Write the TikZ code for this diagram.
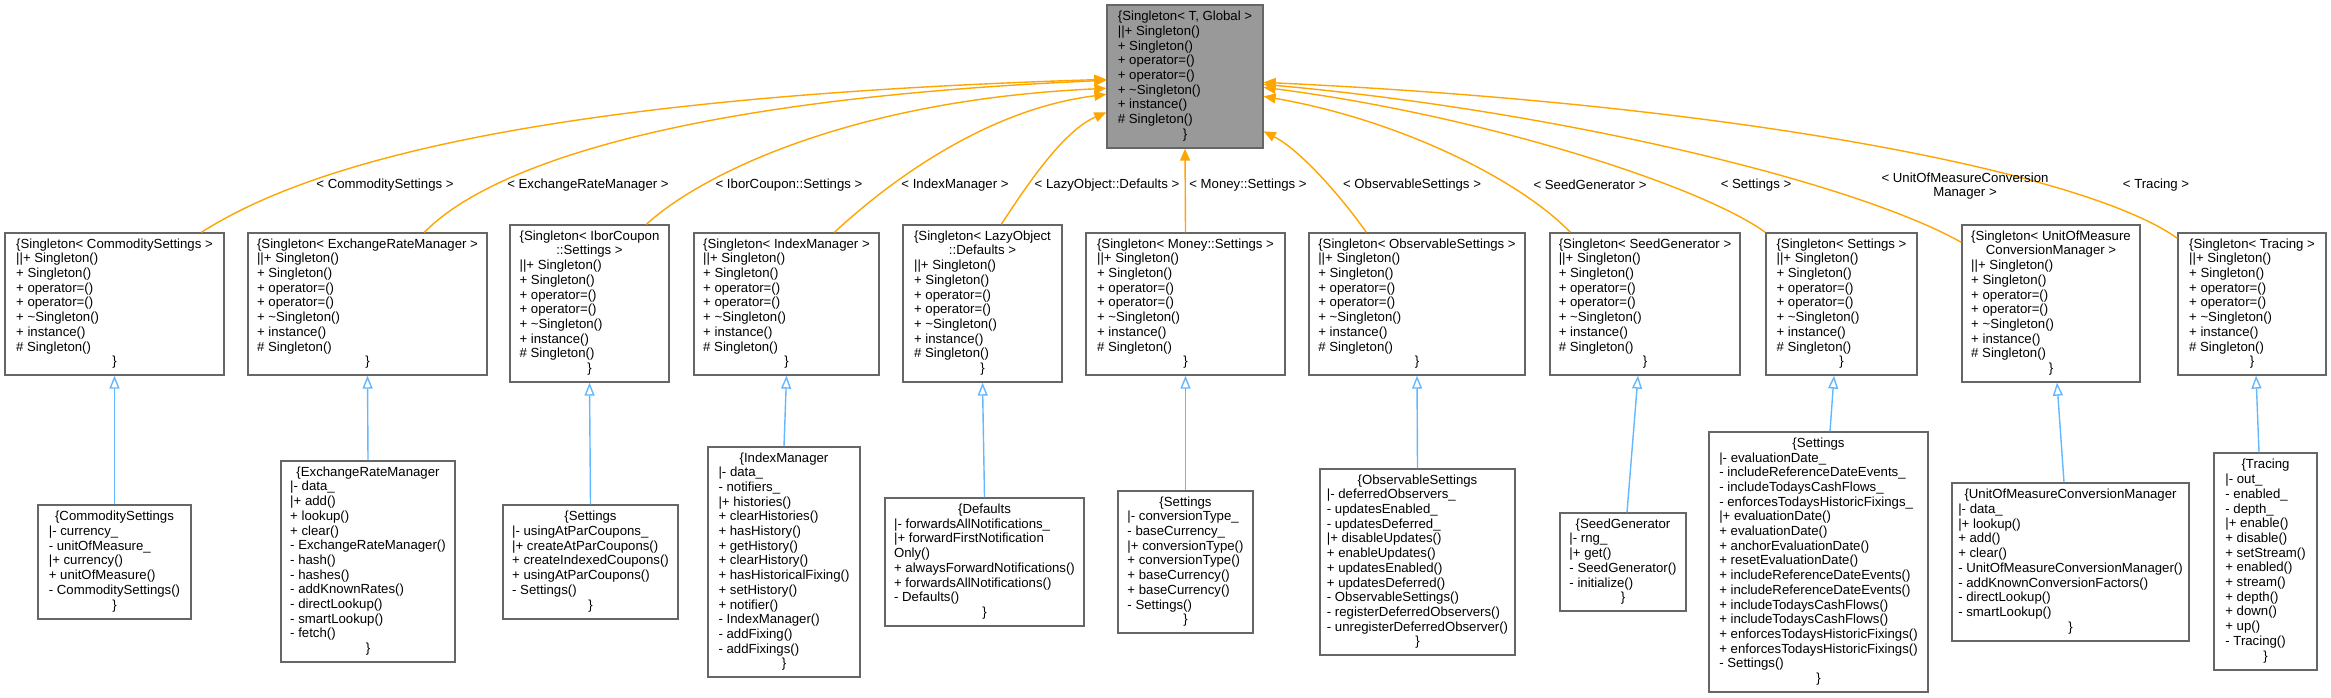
\documentclass[tikz,border=0pt]{standalone}
\usepackage{fontspec}
\setmainfont{Liberation Sans}
\usetikzlibrary{arrows.meta,calc}
\definecolor{edgeorange}{HTML}{FFA500}
\definecolor{inhblue}{HTML}{63B8FF}
\definecolor{bordergray}{HTML}{666666}
\definecolor{topfill}{HTML}{999999}
\newcommand\ttl[1]{\multicolumn{1}{@{}c@{}}{#1}}
\newcommand\cend{\multicolumn{1}{@{}c@{}}{\}}}
\newcommand\sgl{||+ Singleton()\\ + Singleton()\\ + operator=()\\ + operator=()\\ + \textasciitilde Singleton()\\ + instance()\\ \# Singleton()\\}
\newenvironment{rec}{\begin{tabular}{@{}l@{}}}{\end{tabular}}
\begin{document}
\begin{tikzpicture}[x=1pt,y=-1pt,
  cls/.style={draw=bordergray, line width=1.3pt, fill=white, inner sep=0pt,
    font=\fontsize{13.2}{14.7}\selectfont},
  box/.style 2 args={cls, minimum width=#1, minimum height=#2},
  lbl/.style={inner sep=0pt, font=\fontsize{13.2}{14.7}\selectfont, align=center},
  tmpl/.style={draw=edgeorange, line width=1.4pt, -{Triangle[length=12pt,width=10pt]}},
  inh/.style={draw=inhblue, line width=1.4pt, -{Triangle[open,length=13pt,width=10pt,fill=white]}}]
\fill[white] (0,0) rectangle (2331,697);
\useasboundingbox (0,0) rectangle (2331,697);

% top node
\node[box={156pt}{143pt}, fill=topfill] (T) at (1185,76.5) {\begin{rec}\ttl{\{Singleton< T, Global >}\\ \sgl\cend\end{rec}};

% middle row
\node[box={219pt}{142pt}] (mComm) at (114.5,304) {\begin{rec}\ttl{\{Singleton< CommoditySettings >}\\ \sgl\cend\end{rec}};
\node[box={239pt}{142pt}] (mExr) at (367.5,304) {\begin{rec}\ttl{\{Singleton< ExchangeRateManager >}\\ \sgl\cend\end{rec}};
\node[box={159pt}{157pt}] (mIbor) at (589.5,303.5) {\begin{rec}\ttl{\{Singleton< IborCoupon}\\ \ttl{::Settings >}\\ \sgl\cend\end{rec}};
\node[box={185pt}{142pt}] (mIdx) at (786.5,304) {\begin{rec}\ttl{\{Singleton< IndexManager >}\\ \sgl\cend\end{rec}};
\node[box={159pt}{157pt}] (mLazy) at (982.5,303.5) {\begin{rec}\ttl{\{Singleton< LazyObject}\\ \ttl{::Defaults >}\\ \sgl\cend\end{rec}};
\node[box={199pt}{142pt}] (mMoney) at (1185.5,304) {\begin{rec}\ttl{\{Singleton< Money::Settings >}\\ \sgl\cend\end{rec}};
\node[box={216pt}{142pt}] (mObs) at (1417,304) {\begin{rec}\ttl{\{Singleton< ObservableSettings >}\\ \sgl\cend\end{rec}};
\node[box={190pt}{142pt}] (mSeed) at (1645,304) {\begin{rec}\ttl{\{Singleton< SeedGenerator >}\\ \sgl\cend\end{rec}};
\node[box={151pt}{142pt}] (mSet) at (1841.5,304) {\begin{rec}\ttl{\{Singleton< Settings >}\\ \sgl\cend\end{rec}};
\node[box={178pt}{157pt}] (mUom) at (2051,303.5) {\begin{rec}\ttl{\{Singleton< UnitOfMeasure}\\ \ttl{ConversionManager >}\\ \sgl\cend\end{rec}};
\node[box={148pt}{142pt}] (mTr) at (2252,304) {\begin{rec}\ttl{\{Singleton< Tracing >}\\ \sgl\cend\end{rec}};

% bottom row
\node[box={153pt}{114pt}] (bComm) at (114.5,562) {\begin{rec}\ttl{\{CommoditySettings}\\ |- currency\_\\ - unitOfMeasure\_\\ |+ currency()\\ + unitOfMeasure()\\ - CommoditySettings()\\ \cend\end{rec}};
\node[box={174pt}{201pt}] (bExr) at (368,561.5) {\begin{rec}\ttl{\{ExchangeRateManager}\\ |- data\_\\ |+ add()\\ + lookup()\\ + clear()\\ - ExchangeRateManager()\\ - hash()\\ - hashes()\\ - addKnownRates()\\ - directLookup()\\ - smartLookup()\\ - fetch()\\ \cend\end{rec}};
\node[box={175pt}{114pt}] (bIbor) at (590.5,562) {\begin{rec}\ttl{\{Settings}\\ |- usingAtParCoupons\_\\ |+ createAtParCoupons()\\ + createIndexedCoupons()\\ + usingAtParCoupons()\\ - Settings()\\ \cend\end{rec}};
\node[box={152pt}{230pt}] (bIdx) at (784,562) {\begin{rec}\ttl{\{IndexManager}\\ |- data\_\\ - notifiers\_\\ |+ histories()\\ + clearHistories()\\ + hasHistory()\\ + getHistory()\\ + clearHistory()\\ + hasHistoricalFixing()\\ + setHistory()\\ + notifier()\\ - IndexManager()\\ - addFixing()\\ - addFixings()\\ \cend\end{rec}};
\node[box={199pt}{128pt}] (bLazy) at (984.5,562) {\begin{rec}\ttl{\{Defaults}\\ |- forwardsAllNotifications\_\\ |+ forwardFirstNotification\\ Only()\\ + alwaysForwardNotifications()\\ + forwardsAllNotifications()\\ - Defaults()\\ \cend\end{rec}};
\node[box={135pt}{142pt}] (bMoney) at (1185.5,562) {\begin{rec}\ttl{\{Settings}\\ |- conversionType\_\\ - baseCurrency\_\\ |+ conversionType()\\ + conversionType()\\ + baseCurrency()\\ + baseCurrency()\\ - Settings()\\ \cend\end{rec}};
\node[box={195pt}{186pt}] (bObs) at (1417.5,562) {\begin{rec}\ttl{\{ObservableSettings}\\ |- deferredObservers\_\\ - updatesEnabled\_\\ - updatesDeferred\_\\ |+ disableUpdates()\\ + enableUpdates()\\ + updatesEnabled()\\ + updatesDeferred()\\ - ObservableSettings()\\ - registerDeferredObservers()\\ - unregisterDeferredObserver()\\ \cend\end{rec}};
\node[box={126pt}{98pt}] (bSeed) at (1623,562) {\begin{rec}\ttl{\{SeedGenerator}\\ |- rng\_\\ |+ get()\\ - SeedGenerator()\\ - initialize()\\ \cend\end{rec}};
\node[box={219pt}{260pt}] (bSet) at (1818.5,562) {\begin{rec}\ttl{\{Settings}\\ |- evaluationDate\_\\ - includeReferenceDateEvents\_\\ - includeTodaysCashFlows\_\\ - enforcesTodaysHistoricFixings\_\\ |+ evaluationDate()\\ + evaluationDate()\\ + anchorEvaluationDate()\\ + resetEvaluationDate()\\ + includeReferenceDateEvents()\\ + includeReferenceDateEvents()\\ + includeTodaysCashFlows()\\ + includeTodaysCashFlows()\\ + enforcesTodaysHistoricFixings()\\ + enforcesTodaysHistoricFixings()\\ - Settings()\\ \cend\end{rec}};
\node[box={237pt}{158pt}] (bUom) at (2070.5,562) {\begin{rec}\ttl{\{UnitOfMeasureConversionManager}\\ |- data\_\\ |+ lookup()\\ + add()\\ + clear()\\ - UnitOfMeasureConversionManager()\\ - addKnownConversionFactors()\\ - directLookup()\\ - smartLookup()\\ \cend\end{rec}};
\node[box={103pt}{217pt}] (bTr) at (2265.5,561.5) {\begin{rec}\ttl{\{Tracing}\\ |- out\_\\ - enabled\_\\ - depth\_\\ |+ enable()\\ + disable()\\ + setStream()\\ + enabled()\\ + stream()\\ + depth()\\ + down()\\ + up()\\ - Tracing()\\ \cend\end{rec}};

% inheritance arrows
\draw[inh] (bComm.north) -- (mComm.south);
\draw[inh] (bExr.north) -- (mExr.south);
\draw[inh] (bIbor.north) -- (mIbor.south);
\draw[inh] (bIdx.north) -- (mIdx.south);
\draw[inh] (bLazy.north) -- (mLazy.south);
\draw[inh] (bMoney.north) -- (mMoney.south);
\draw[inh] (bObs.north) -- (mObs.south);
\draw[inh] ($(bSeed.north)+(4,0)$) -- ($(mSeed.south)+(-7,0)$);
\draw[inh] ($(bSet.north)+(11.5,0)$) -- ($(mSet.south)+(-7.5,0)$);
\draw[inh] ($(bUom.north)+(-6.5,0)$) -- ($(mUom.south)+(6,0)$);
\draw[inh] ($(bTr.north)+(-6.5,0)$) -- ($(mTr.south)+(4,0)$);

% template instance edges
\draw[tmpl] ($(mComm.north west)+(197,0)$) .. controls (330,150) and (600,95) .. ($(T.north west)+(0,75)$);
\draw[tmpl] ($(mExr.north west)+(177,0)$) .. controls (480,175) and (650,100) .. ($(T.north west)+(0,76)$);
\draw[tmpl] ($(mIbor.north west)+(137,0)$) .. controls (700,175) and (850,100) .. ($(T.north west)+(0,84)$);
\draw[tmpl] ($(mIdx.north west)+(141,0)$) .. controls (880,190) and (980,110) .. ($(T.north west)+(0,90)$);
\draw[tmpl] ($(mLazy.north west)+(99,0)$) .. controls (1030,180) and (1065,130) .. ($(T.north west)+(0,108)$);
\draw[tmpl] (mMoney.north) -- (T.south);
\draw[tmpl] ($(mObs.north west)+(58,0)$) .. controls (1340,195) and (1300,150) .. ($(T.north east)+(0,127)$);
\draw[tmpl] ($(mSeed.north west)+(21,0)$) .. controls (1520,180) and (1400,120) .. ($(T.north east)+(0,92)$);
\draw[tmpl] (mSet.north west) .. controls (1700,185) and (1480,115) .. ($(T.north east)+(0,83)$);
\draw[tmpl] ($(mUom.north west)+(0,18)$) .. controls (1850,180) and (1550,110) .. ($(T.north east)+(0,80)$);
\draw[tmpl] ($(mTr.north west)+(0,6)$) .. controls (2090,175) and (1750,105) .. ($(T.north east)+(0,78)$);

% edge labels
\node[lbl] (lComm) at (385,185) {< CommoditySettings >};
\node[lbl] (lExr) at (588,185) {< ExchangeRateManager >};
\node[lbl] (lIbor) at (789,185) {< IborCoupon::Settings >};
\node[lbl] (lIdx) at (955,185) {< IndexManager >};
\node[lbl] (lLazy) at (1107,185) {< LazyObject::Defaults >};
\node[lbl] (lMoney) at (1248,185) {< Money::Settings >};
\node[lbl] (lObs) at (1412,185) {< ObservableSettings >};
\node[lbl] (lSeed) at (1590,185) {< SeedGenerator >};
\node[lbl] (lSet) at (1756,185) {< Settings >};
\node[lbl] (lUom) at (1965,186) {< UnitOfMeasureConversion\\ Manager >};
\node[lbl] (lTr) at (2156,185) {< Tracing >};
\end{tikzpicture}
\end{document}
